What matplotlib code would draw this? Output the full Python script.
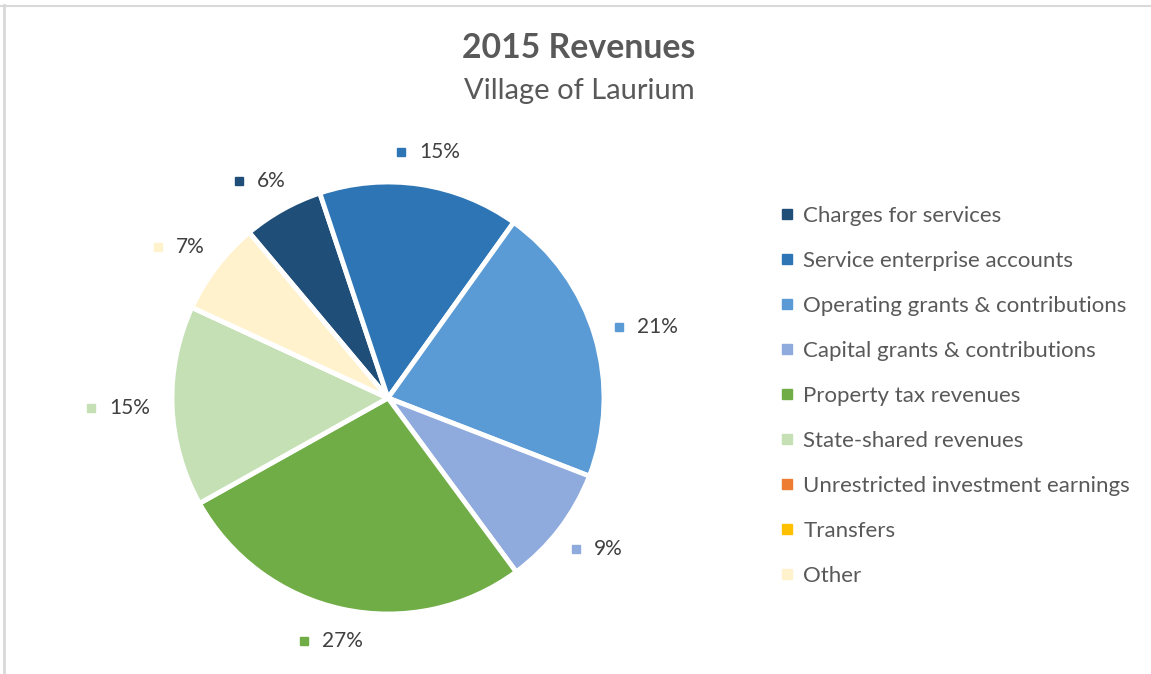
import numpy as np
import matplotlib
matplotlib.use("Agg")
import matplotlib.pyplot as plt
from matplotlib.lines import Line2D

plt.rcParams['font.family'] = ['Lato', 'DejaVu Sans']

# --- data ---
categories = ["Charges for services", "Service enterprise accounts",
              "Operating grants & contributions", "Capital grants & contributions",
              "Property tax revenues", "State-shared revenues",
              "Unrestricted investment earnings", "Transfers", "Other"]
shares = [6, 15, 21, 9, 27, 15, 0, 0, 7]
colors = ["#1F4E79", "#2E75B6", "#5B9BD5", "#8FAADC", "#70AD47",
          "#C5E0B4", "#ED7D31", "#FFC000", "#FFF2CC"]

W, H = 1151, 674
cx, cy, R = 388, 398, 216   # pie centre / radius in pixels

fig = plt.figure(figsize=(W / 100, H / 100), dpi=100)
ax = fig.add_axes([0, 0, 1, 1])

wedges, _ = ax.pie(shares, colors=colors, startangle=130, counterclock=False,
                   radius=1, center=(0, 0), frame=True,
                   wedgeprops=dict(edgecolor='white', linewidth=3.5))
ax.set_xlim(-cx / R, (W - cx) / R)
ax.set_ylim(-(H - cy) / R, cy / R)
ax.set_aspect('equal')
ax.axis('off')

# --- data labels with coloured square ---
for w, val, col in zip(wedges, shares, colors):
    if val == 0:
        continue
    mid = np.deg2rad((w.theta1 + w.theta2) / 2)
    c, s = np.cos(mid), np.sin(mid)
    txt = f"{val}%"
    half_w = (12 + 6.5 * len(txt)) / R
    half_h = 11 / R
    x = (1 + 22 / R) * c + half_w * c
    y = (1 + 22 / R) * s + half_h * s
    ax.plot(x - half_w + 4 / R, y, marker='s', markersize=6, color=col,
            linestyle='none')
    ax.text(x - half_w + 22 / R, y, txt, ha='left', va='center',
            fontsize=15, color='#404040')

# --- title ---
fig.text(0.503, 1 - 48 / H, "2015 Revenues", ha='center', va='center',
         fontsize=24.3, fontweight='bold', color='#595959')
fig.text(0.503, 1 - 91 / H, "Village of Laurium", ha='center', va='center',
         fontsize=21, color='#595959')

# --- legend ---
handles = [Line2D([0], [0], marker='s', linestyle='none', markersize=6.5,
                  color=c) for c in colors]
leg = fig.legend(handles, categories, loc='upper left',
                 bbox_to_anchor=(771 / W, 1 - 197 / H), frameon=False,
                 fontsize=16, labelcolor='#595959', handlelength=0.6,
                 handletextpad=0.45, labelspacing=1.125, borderaxespad=0)

# --- chart border (top / left only visible) ---
fig.add_artist(Line2D([0, 1], [1 - 5.5 / H, 1 - 5.5 / H], color='#D9D9D9',
                      linewidth=1.5, transform=fig.transFigure))
fig.add_artist(Line2D([3.5 / W, 3.5 / W], [0, 1 - 5 / H], color='#D9D9D9',
                      linewidth=2, transform=fig.transFigure))

fig.savefig("out.png", dpi=100)
